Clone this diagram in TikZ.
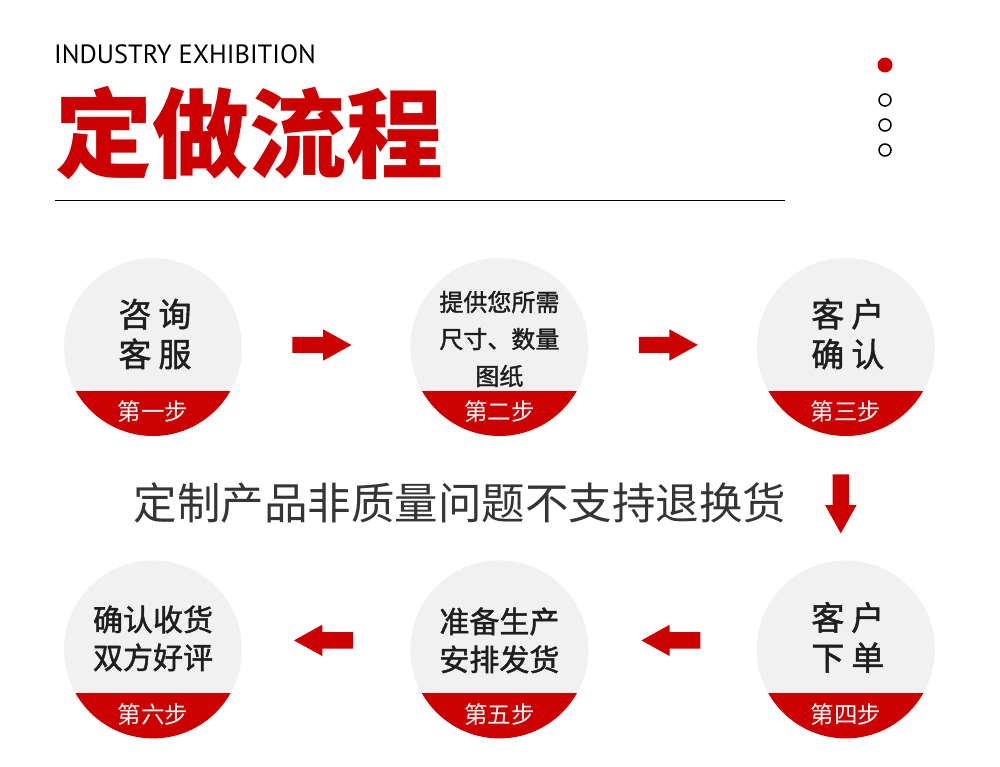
\documentclass[tikz,border=0pt]{standalone}
\usepackage{fontspec}
\newfontfamily\cjk{Noto Sans CJK SC}
\newfontfamily\cjkdark{Noto Sans CJK SC}[FakeBold=1.5]
\newfontfamily\headfont{PT Sans}
\usetikzlibrary{positioning, shapes.arrows, calc}
\definecolor{stepred}{HTML}{CC0000}
\definecolor{discgrey}{HTML}{F1F1F1}
\definecolor{inkgrey}{HTML}{1E1E1E}

\begin{document}
\begin{tikzpicture}[x=1pt, y=1pt, node distance=124pt and 168pt,
    disc/.style={circle, fill=discgrey, minimum size=178pt, inner sep=0pt},
    bigtext/.style={font=\cjkdark\fontsize{33}{40}\selectfont\addfontfeature{LetterSpace=21}, text=inkgrey, align=center, inner sep=0pt},
    midtext/.style={font=\cjkdark\fontsize{30}{38}\selectfont, text=inkgrey, align=center, inner sep=0pt},
    smalltext/.style={font=\cjkdark\fontsize{24}{37}\selectfont, text=inkgrey, align=center, inner sep=0pt},
    steptag/.style={font=\cjk\fontsize{23.5}{23.5}\selectfont, text=white, inner sep=0pt},
    blockarrow/.style={single arrow, fill=stepred, minimum height=59pt, minimum width=31pt,
        single arrow head extend=7.5pt, single arrow tip angle=58, inner xsep=0pt, inner ysep=8pt, anchor=tail},
    downarrow/.style={blockarrow, shape border rotate=270, inner xsep=8pt, inner ysep=0pt}]
    \useasboundingbox (0,0) rectangle (1000,-766);
    \fill[white] (0,0) rectangle (1000,-766);

    % heading
    \node[font=\headfont\fontsize{26.4}{26.4}\selectfont, anchor=base west, inner sep=0pt] (eng) at (54,-63) {INDUSTRY EXHIBITION};
    \node[font=\cjk\bfseries\fontsize{97}{97}\selectfont, text=stepred, anchor=west, inner sep=0pt] (title) at (55,-133) {定做流程};
    \coordinate (rule-l) at (55,-200);
    \coordinate (rule-r) at (785,-200);
    \draw[line width=1pt] (rule-l) -- (rule-r);
    \fill[stepred] (885,-65) circle (7.5);
    \foreach \y in {100,125,150}
        \draw[line width=1.5pt] (885,-\y) circle (6);

    % steps
    \node[disc] (s1) at (153,-347) {};
    \node[disc] (s2) [right=of s1] {};
    \node[disc] (s3) [right=of s2] {};
    \node[disc] (s4) [below=of s3] {};
    \node[disc] (s5) [left=of s4] {};
    \node[disc] (s6) [left=of s5] {};

    \foreach \s/\tag in {s1/第一步, s2/第二步, s3/第三步, s4/第四步, s5/第五步, s6/第六步} {
        \begin{scope}
            \clip (\s) circle (89);
            \fill[stepred] ($(\s)+(-90,-44)$) rectangle ($(\s)+(90,-90)$);
        \end{scope}
        \node[steptag] (tag-\s) at ($(\s)+(0,-65)$) {\tag};
    }

    \node[bigtext] (t1) at ($(s1)+(2,13)$) {咨询\\客服};
    \node[smalltext] (t2) at ($(s2)+(0,8)$) {提供您所需\\尺寸、数量\\图纸};
    \node[bigtext] (t3) at ($(s3)+(2,13)$) {客户\\确认};
    \node[bigtext] (t4) at ($(s4)+(2,12)$) {客户\\下单};
    \node[midtext] (t5) at ($(s5)+(0,9)$) {准备生产\\安排发货};
    \node[midtext] (t6) at ($(s6)+(0,11)$) {确认收货\\双方好评};

    % arrows between steps
    \node[blockarrow] (a12) at ($(s1.east)+(50,2)$) {};
    \node[blockarrow] (a23) at ($(s2.east)+(50,2)$) {};
    \node[downarrow] (a34) at ($(s3.south)+(-5,-38)$) {};
    \node[blockarrow, shape border rotate=180] (a45) at ($(s4.west)+(-56,9)$) {};
    \node[blockarrow, shape border rotate=180] (a56) at ($(s5.west)+(-57,9)$) {};

    \node[font=\cjk\fontsize{43.5}{43.5}\selectfont, text=inkgrey!90, inner sep=0pt] (notice) at (460,-503) {定制产品非质量问题不支持退换货};
\end{tikzpicture}
\end{document}
